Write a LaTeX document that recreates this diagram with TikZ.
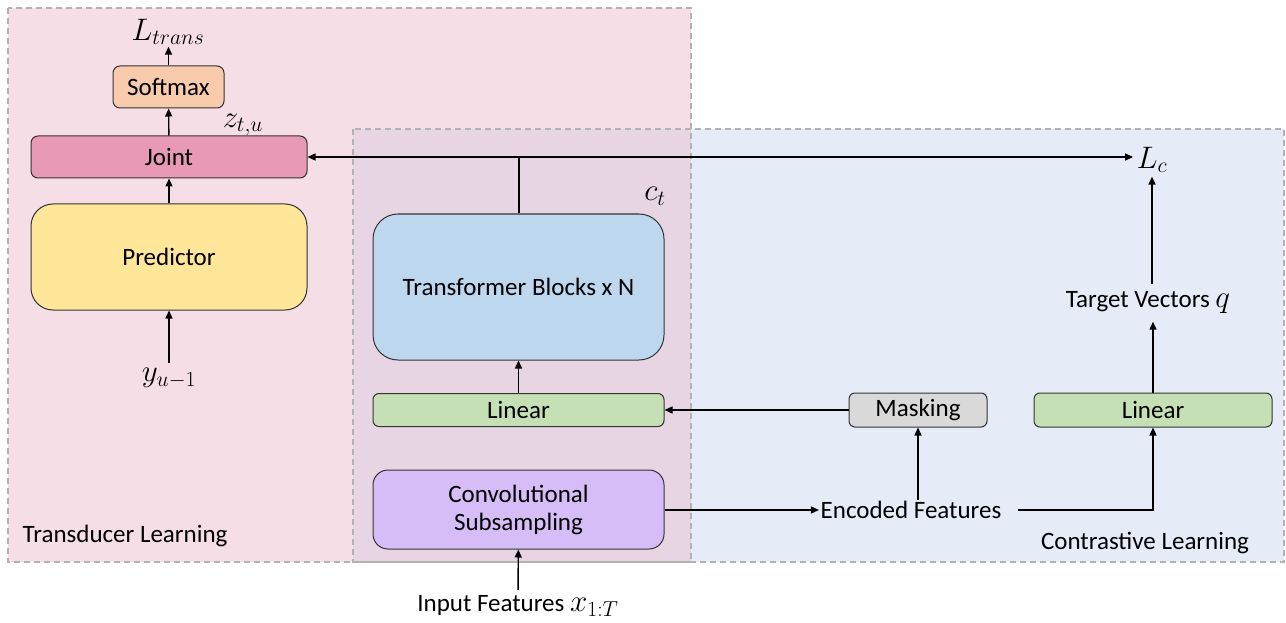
\documentclass[tikz,border=0pt]{standalone}
\usepackage{fontspec}
\setmainfont{Carlito}
\usepackage{graphicx}
\usepackage{xcolor}
\usepackage{tikz}
\usetikzlibrary{shapes,positioning,arrows.meta}
\definecolor{pinkbg}{RGB}{246,222,231}
\definecolor{bluebg}{RGB}{229,236,247}
\definecolor{mixbg}{RGB}{231,213,228}
\definecolor{softc}{RGB}{248,203,173}
\definecolor{jointc}{RGB}{232,153,181}
\definecolor{predc}{RGB}{255,230,153}
\definecolor{transc}{RGB}{189,215,238}
\definecolor{linc}{RGB}{197,224,180}
\definecolor{convc}{RGB}{215,189,248}
\definecolor{maskc}{RGB}{217,217,217}
\newcommand{\mlbl}[1]{\scalebox{1.25}{$#1$}}
\tikzset{blk/.style={rectangle,draw=black!80,line width=1pt,rounded corners=7pt,align=center,inner sep=0pt}}
\tikzset{lbl/.style={inner sep=2pt}}
\tikzset{region/.style={draw=black!30,line width=1.2pt,dash pattern=on 6pt off 4pt}}

\begin{document}
\begin{tikzpicture}[x=1pt,y=-1pt,>={Triangle[length=8pt,width=7pt]},line width=1.4pt,font=\fontsize{25}{28}\selectfont]
    \useasboundingbox (0,0) rectangle (1286,623);
    % regions
    \fill[pinkbg] (8,8) rectangle (691,562);
    \fill[bluebg] (353,129) rectangle (1284,562);
    \fill[mixbg] (353,129) rectangle (691,562);
    \draw[region] (8,8) rectangle (691,562);
    \draw[region] (353,129) rectangle (1284,562);

    \node[blk,fill=softc,minimum width=111pt,minimum height=42pt] (soft)at (168.5,87) {Softmax};
    \node[blk,fill=jointc,minimum width=276pt,minimum height=42pt] (joint)at (169,157) {Joint};
    \node[blk,fill=predc,minimum width=276pt,minimum height=106pt,rounded corners=22pt] (pred)at (169,257) {Predictor};
    \node[blk,fill=transc,minimum width=291pt,minimum height=146pt,rounded corners=25pt] (trans)at (518.5,287) {Transformer Blocks x N};
    \node[blk,fill=linc,minimum width=291pt,minimum height=33pt,rounded corners=6pt] (lin)at (518.5,410) {Linear};
    \node[blk,fill=convc,minimum width=291pt,minimum height=79pt,rounded corners=15pt] (conv)at (518.5,509.5) {Convolutional\\Subsampling};
    \node[blk,fill=maskc,minimum width=138pt,minimum height=34pt,rounded corners=6pt] (mask)at (918,410) {Masking};
    \node[blk,fill=linc,minimum width=238pt,minimum height=34pt,rounded corners=6pt] (lin2)at (1153,410) {Linear};

    \node[lbl,inner sep=1pt] (ltr)at (168,32) {\mlbl{L_{trans}}};
    \node[lbl] (ztu)at (243,125) {\mlbl{z_{t,u}}};
    \node[lbl,inner sep=4pt] (yu)at (169,378) {\mlbl{y_{u-1}}};
    \node[lbl] (ct)at (655,196) {\mlbl{c_t}};
    \node[lbl,inner sep=3pt] (lc)at (1152,160) {\mlbl{L_c}};
    \node[lbl,inner sep=7pt] (tv)at (1148,303) {Target Vectors \mlbl{q}};
    \node[lbl,inner sep=1pt] (enc)at (911,510) {Encoded Features};
    \node[lbl,inner sep=5pt] (inp)at (518,606) {Input Features \mlbl{x_{1:T}}};
    \node[lbl,anchor=west] (tdl)at (20,536) {Transducer Learning};
    \node[lbl] (ctl)at (1145,543) {Contrastive Learning};
    \coordinate (split) at (519,157);
    \coordinate (encr) at (1018,510);

    \draw [->] (joint) to [] (soft);
    \draw [->] (soft) to [] (soft |- ltr.south);
    \draw [->] (pred) to [] (joint);
    \draw [->] (yu) to [] (pred);
    \draw [] (trans.north -| split) to [] (split);
    \draw [->] (split) to [] (joint);
    \draw [->] (split) to [] (split -| lc.west);
    \draw [->] (lin) to [] (trans);
    \draw [->] (inp) to [] (conv);
    \draw [->] (conv.east |- enc) to [] (enc);
    \draw [->] (mask) to [] (lin);
    \draw [->] (enc.north -| mask) to [] (mask);
    \draw [->] (encr) -| (lin2);
    \draw [->] (lin2) to [] (lin2 |- tv.south);
    \draw [->] (tv.north -| lc) to [] (lc);
\end{tikzpicture}
\end{document}
